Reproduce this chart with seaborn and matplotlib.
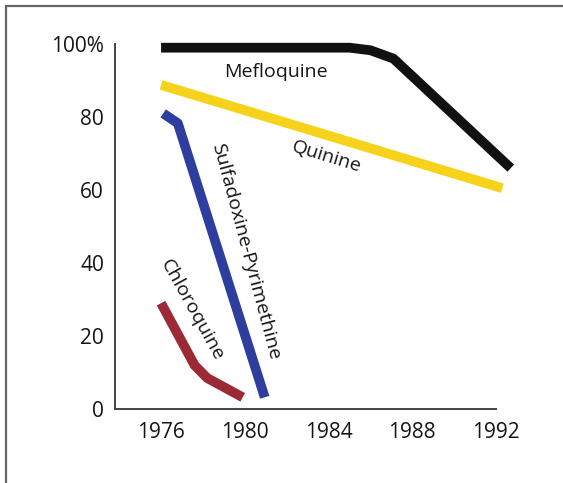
import matplotlib
matplotlib.use("Agg")
import matplotlib.pyplot as plt
import seaborn as sns
import pandas as pd

# ---- data ----
mef_years = [1976.0, 1985.0, 1986.0, 1987.1, 1992.7]
mef_vals = [99.0, 99.0, 98.3, 96.0, 66.0]
qui_years = [1976.0, 1992.3]
qui_vals = [88.8, 60.5]
sp_years = [1976.1, 1976.8, 1980.95]
sp_vals = [81.0, 78.3, 3.2]
chl_years = [1976.0, 1977.6, 1978.2, 1979.9]
chl_vals = [29.0, 12.0, 8.5, 3.2]

series_names = ["Mefloquine", "Quinine", "Sulfadoxine-Pyrimethine", "Chloroquine"]
series_colors = ["#111111", "#F6D21A", "#2E3E9E", "#9C2A36"]
x_ticks = [1976, 1980, 1984, 1988, 1992]
y_ticks = [0, 20, 40, 60, 80, 100]
y_tick_labels = ["0", "20", "40", "60", "80", "100%"]

frames = []
for name, xs, ys in zip(series_names,
                        [mef_years, qui_years, sp_years, chl_years],
                        [mef_vals, qui_vals, sp_vals, chl_vals]):
    frames.append(pd.DataFrame({"year": xs, "value": ys, "drug": name}))
df = pd.concat(frames, ignore_index=True)

sns.set_style("white")
plt.rcParams["font.family"] = ["Open Sans", "DejaVu Sans"]

fig = plt.figure(figsize=(5.63, 4.83), dpi=100)
ax = fig.add_axes([115 / 563, 1 - 409 / 483, (527.5 - 115) / 563, (409 - 25.8) / 483])

sns.lineplot(data=df, x="year", y="value", hue="drug", hue_order=series_names,
             palette=series_colors, sort=False, estimator=None, linewidth=7.0,
             legend=False, ax=ax)
for line in ax.get_lines():
    line.set_solid_capstyle("butt")
    line.set_solid_joinstyle("round")
    line.set_clip_on(False)

ax.set_xlim(1973.8, 1993.5)
ax.set_ylim(0, 105)
ax.set_xticks(x_ticks)
ax.set_xticklabels([str(t) for t in x_ticks], fontsize=15, color="#151515")
ax.set_yticks(y_ticks)
ax.set_yticklabels(y_tick_labels, fontsize=15, color="#151515")
ax.set_xlabel("")
ax.set_ylabel("")

for s in ["top", "right"]:
    ax.spines[s].set_visible(False)
for s in ["left", "bottom"]:
    ax.spines[s].set_color("#444444")
    ax.spines[s].set_linewidth(1.4)
ax.spines["left"].set_bounds(0, 100)
ax.spines["bottom"].set_bounds(1973.8, 1992)
ax.tick_params(axis="x", direction="in", length=4, width=1.2, color="#444444", pad=9)
ax.tick_params(axis="y", direction="out", length=3, width=1.2, color="#444444", pad=5)
ax.patch.set_alpha(0)

# labels
lab_kw = dict(fontsize=14, ha="center", va="center", color="#151515", rotation_mode="anchor")
ax.text(1981.5, 92.4, "Mefloquine", **lab_kw)
ax.text(1983.9, 69.1, "Quinine", rotation=-17, **lab_kw)
ax.text(1980.05, 43.1, "Sulfadoxine-Pyrimethine", rotation=-75, **lab_kw)
ax.text(1977.5, 27.1, "Chloroquine", rotation=-61, **lab_kw)

# frame (left and top edges only, as in the cropped reference)
fig.add_artist(plt.Line2D([5.5 / 563, 5.5 / 563], [0, 1 - 6 / 483], transform=fig.transFigure,
                          color="#666666", linewidth=1.6))
fig.add_artist(plt.Line2D([5.5 / 563, 1], [1 - 6 / 483, 1 - 6 / 483], transform=fig.transFigure,
                          color="#666666", linewidth=1.6))

fig.savefig("out.png", dpi=100)
